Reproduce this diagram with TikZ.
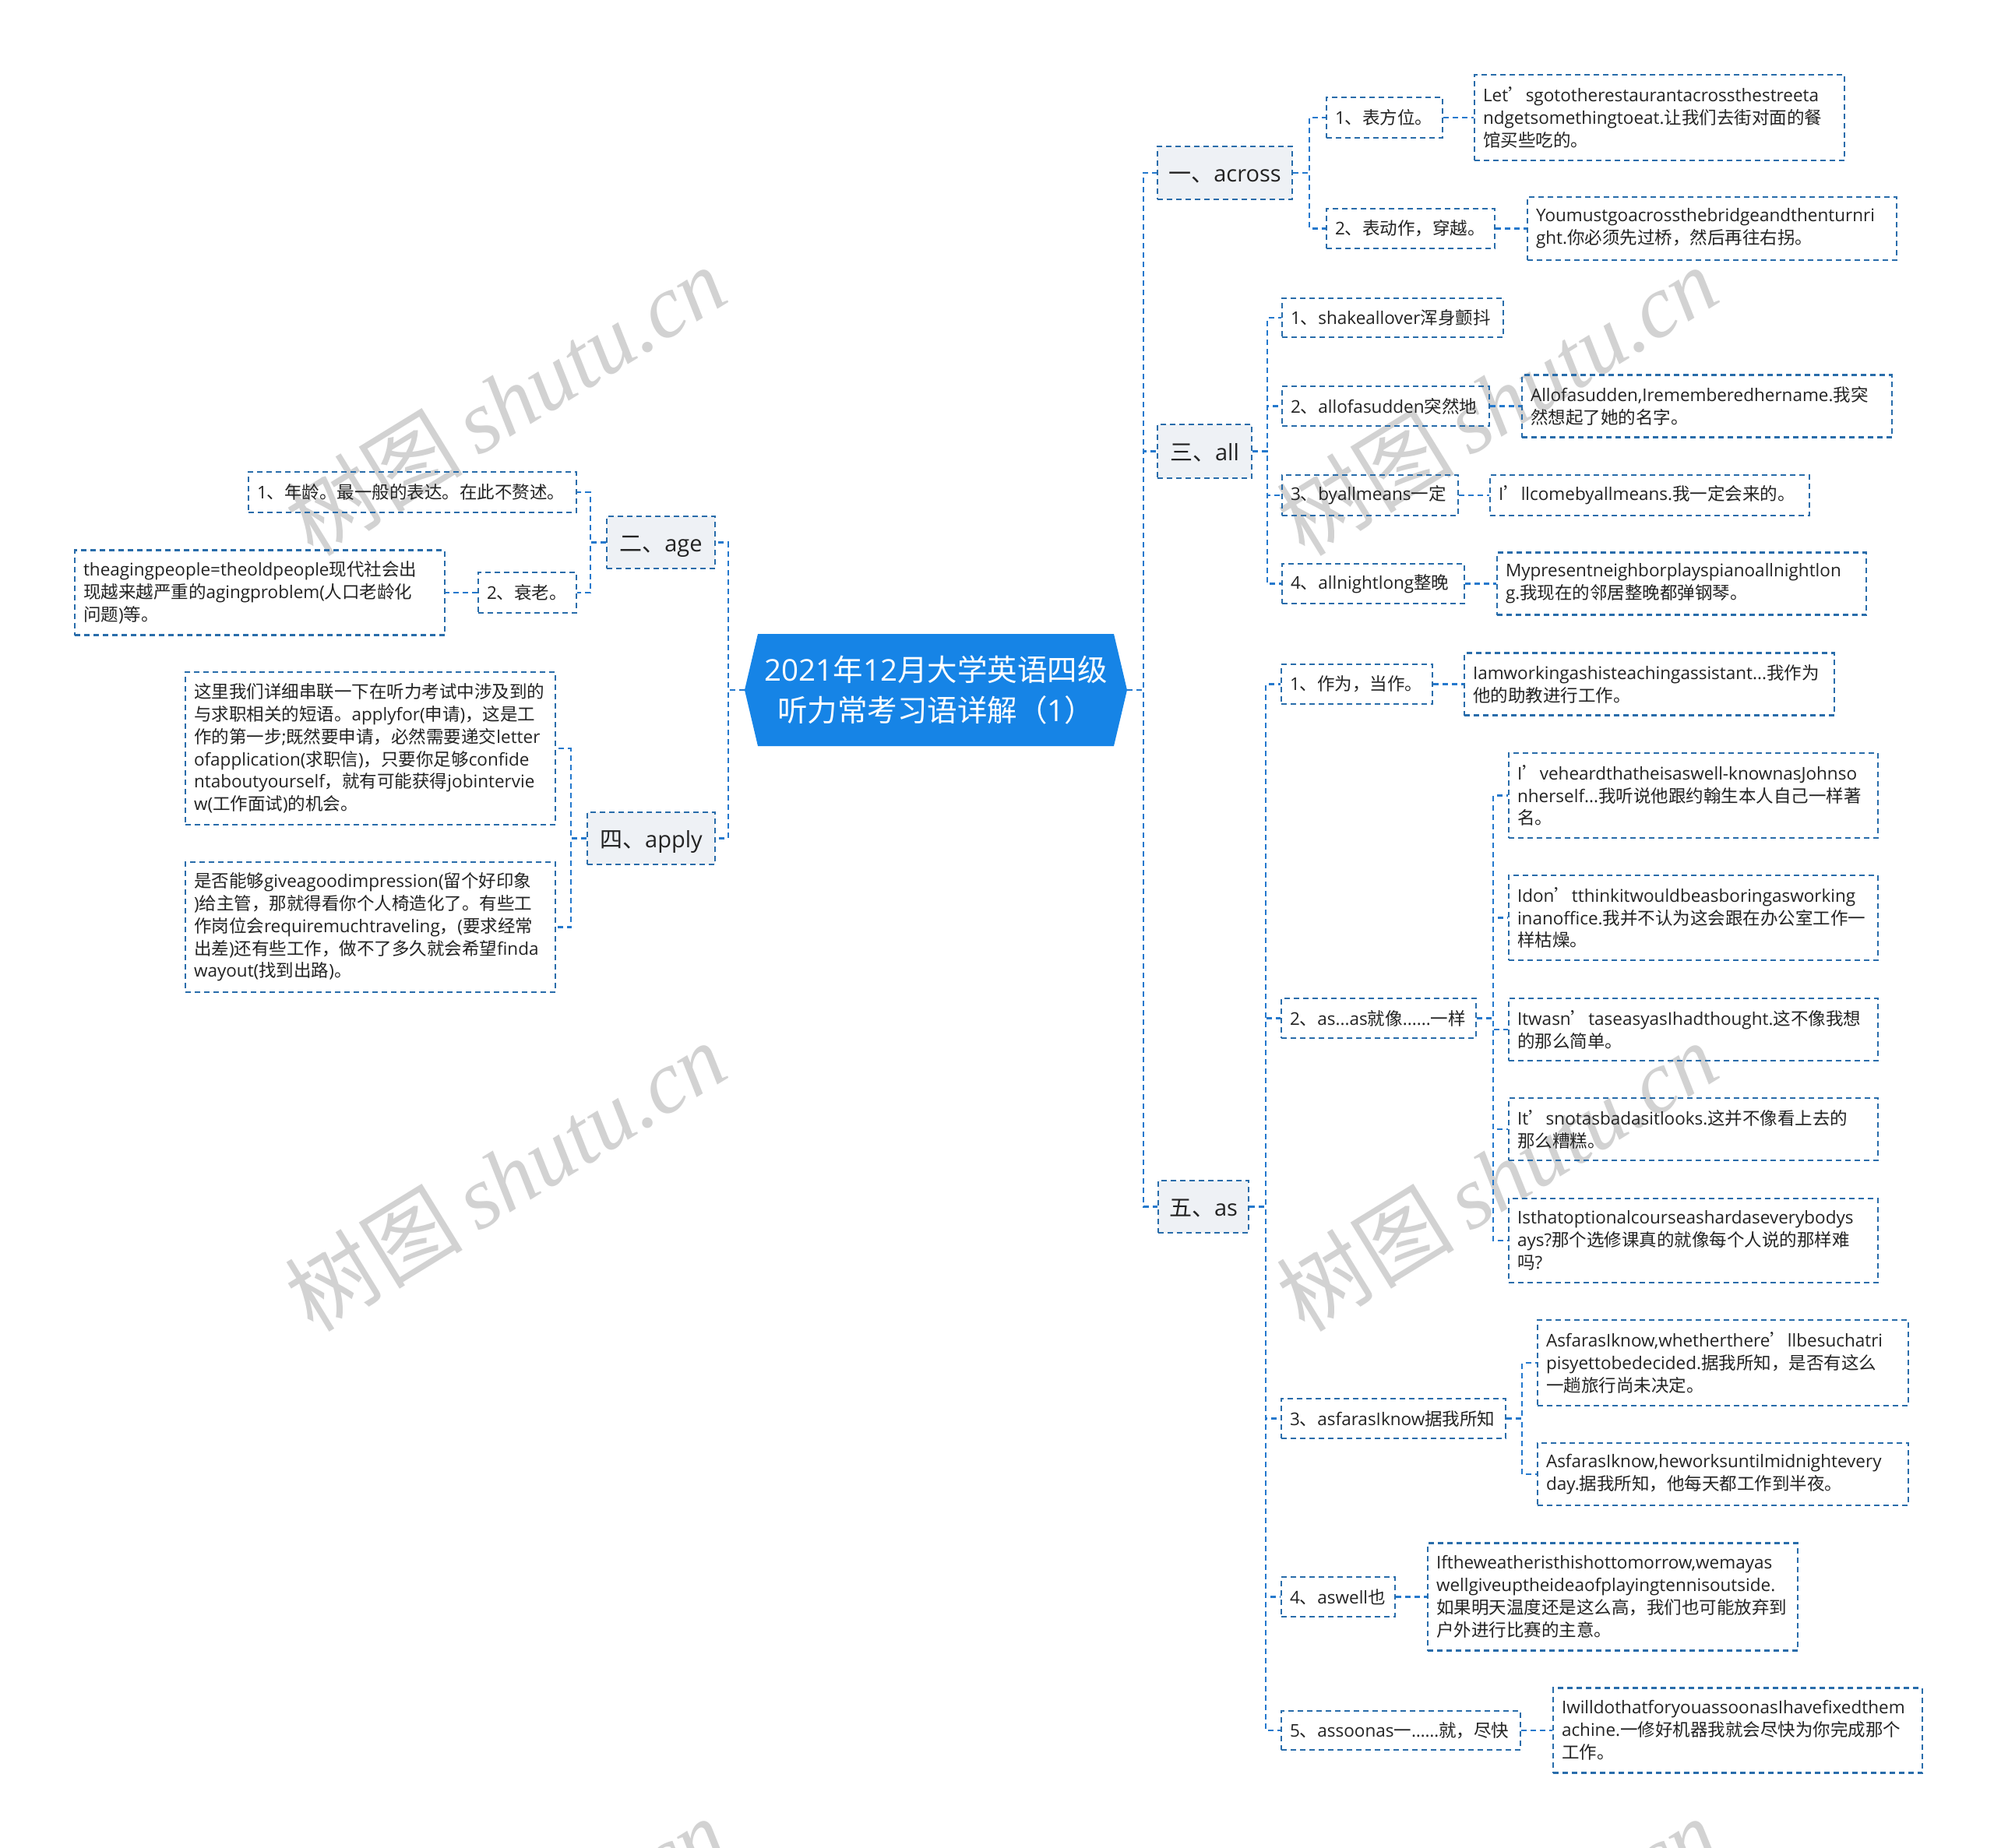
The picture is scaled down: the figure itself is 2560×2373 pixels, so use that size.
\documentclass[tikz,border=0pt]{standalone}
\usepackage{fontspec}
\setmainfont{Open Sans}
\newfontfamily\latinf{Open Sans}
\newfontfamily\cjkf{Noto Sans CJK SC}
\newfontfamily\wmserif{Liberation Serif}
\newXeTeXintercharclass\cjkclass
\makeatletter
\count@="21
\loop\XeTeXcharclass\count@=0 \advance\count@\@ne\ifnum\count@<"2E80\repeat
\count@="2E80
\loop\XeTeXcharclass\count@=\cjkclass\advance\count@\@ne\ifnum\count@<"A000\repeat
\count@="FF00
\loop\XeTeXcharclass\count@=\cjkclass\advance\count@\@ne\ifnum\count@<"FFF0\repeat
\makeatother
\XeTeXcharclass"2018=\cjkclass
\XeTeXcharclass"2019=\cjkclass
\XeTeXcharclass"201C=\cjkclass
\XeTeXcharclass"201D=\cjkclass
\XeTeXinterchartoks 0 \cjkclass = {\cjkf}
\XeTeXinterchartoks 4095 \cjkclass = {\cjkf}
\XeTeXinterchartoks \cjkclass 0 = {\latinf}
\XeTeXinterchartoks \cjkclass 4095 = {\latinf}
\XeTeXinterchartokenstate=1
\newcommand\nohyph{\hyphenpenalty=10000\relax\exhyphenpenalty=10000\relax}
\definecolor{bord}{RGB}{40,108,170}
\definecolor{connc}{RGB}{35,120,205}
\definecolor{lonefill}{RGB}{238,241,245}
\definecolor{titlec}{RGB}{22,132,230}
\definecolor{wmc}{RGB}{210,210,210}
\definecolor{txt}{RGB}{35,35,35}
\begin{document}
\begin{tikzpicture}[x=1pt,y=-1pt,
  box/.style={draw=bord, dash pattern=on 7pt off 5pt, line width=2.2pt, inner ysep=0pt, text=txt},
  lone/.style={box, fill=lonefill, inner xsep=0pt, align=center, text height=26pt, text depth=2pt,
    font=\fontsize{29}{36}\selectfont},
  leaf/.style={box, inner xsep=11pt, align=left,
    font=\fontsize{22.5}{28.8}\selectfont\nohyph},
  conn/.style={draw=connc, dash pattern=on 7pt off 5pt, line width=2.2pt},
  wmark/.style={rotate=31.6, text=wmc, inner sep=0pt, font=\fontsize{114}{114}\selectfont}
]
\useasboundingbox (0,0) rectangle (2560,2373);
\fill[white] (0,0) rectangle (2560,2373);

% watermarks
\begin{scope}
\clip (0,0) rectangle (2560,2373);
\foreach \wx/\wy [count=\i] in {649/514,1922/514,649/1510,1922/1510,649/2506,1922/2506}
  \node[wmark] (wm\i) at (\wx,\wy) {\XeTeXinterchartokenstate=0\relax{\cjkf 树图}\hspace{20pt}{\wmserif\itshape shutu.cn}};
\end{scope}

% title
\fill[titlec] (956,886) -- (973,814) -- (1430,814) -- (1447,886) -- (1430,958) -- (973,958) -- cycle;
\node[text=white, align=center, inner sep=0pt, minimum width=491pt, minimum height=144pt,
  font=\fontsize{38.5}{52}\selectfont] (title) at (1201.5,886) {2021年12月大学英语四级\\听力常考习语详解（1）};

% level 1
\node[lone, minimum width=173pt, minimum height=68pt] (across) at (1572.5,222) {一、across};
\node[lone, minimum width=121pt, minimum height=69pt] (all) at (1546.5,579.5) {三、all};
\node[lone, minimum width=116pt, minimum height=67pt] (as) at (1545,1549.5) {五、as};
\node[lone, minimum width=139pt, minimum height=67pt] (age) at (848.5,696.5) {二、age};
\node[lone, minimum width=164pt, minimum height=67pt] (apply) at (836,1076.5) {四、apply};

% across
\node[leaf, text width=127pt, minimum height=52pt] (a1) at (1777.5,151) {1、表方位。};
\node[leaf, text width=194pt, minimum height=51pt] (a2) at (1811,293.5) {2、表动作，穿越。};
\node[leaf, text width=453pt, minimum height=110pt] (a1l) at (2130.5,151) {Let’sgototherestaurantacrossthestreeta\\ndgetsomethingtoeat.让我们去街对面的餐\\馆买些吃的。};
\node[leaf, text width=452pt, minimum height=81pt] (a2l) at (2198,293.5) {Youmustgoacrossthebridgeandthenturnri\\ght.你必须先过桥，然后再往右拐。};

% all
\node[leaf, text width=262pt, minimum height=50pt] (b1) at (1788,408) {1、shakeallover浑身颤抖};
\node[leaf, text width=244pt, minimum height=51pt] (b2) at (1779,521.5) {2、allofasudden突然地};
\node[leaf, text width=453pt, minimum height=80pt] (b2l) at (2191.5,521.5) {Allofasudden,Irememberedhername.我突\\然想起了她的名字。};
\node[leaf, text width=204pt, minimum height=52pt] (b3) at (1759,636) {3、byallmeans一定};
\node[leaf, text width=388pt, minimum height=52pt] (b3l) at (2118,636) {I’llcomebyallmeans.我一定会来的。};
\node[leaf, text width=212pt, minimum height=51pt] (b4) at (1763,749.5) {4、allnightlong整晚};
\node[leaf, text width=452pt, minimum height=80pt] (b4l) at (2159,749.5) {Mypresentneighborplayspianoallnightlon\\g.我现在的邻居整晚都弹钢琴。};

% as
\node[leaf, text width=172pt, minimum height=51pt] (c1) at (1742,878.5) {1、作为，当作。};
\node[leaf, text width=453pt, minimum height=80pt] (c1l) at (2117.5,878.5) {Iamworkingashisteachingassistant...我作为\\他的助教进行工作。};
\node[leaf, text width=228pt, minimum height=51pt] (c2) at (1770,1307.5) {2、as...as就像......一样};
\node[leaf, text width=452pt, minimum height=109pt] (c2a) at (2174,1021.5) {I’veheardthatheisaswell-knownasJohnso\\nherself...我听说他跟约翰生本人自己一样著\\名。};
\node[leaf, text width=452pt, minimum height=109pt] (c2b) at (2174,1178.5) {Idon’tthinkitwouldbeasboringasworking\\inanoffice.我并不认为这会跟在办公室工作一\\样枯燥。};
\node[leaf, text width=452pt, minimum height=80pt] (c2c) at (2174,1322) {Itwasn’taseasyasIhadthought.这不像我想\\的那么简单。};
\node[leaf, text width=452pt, minimum height=80pt] (c2d) at (2174,1450) {It’snotasbadasitlooks.这并不像看上去的\\那么糟糕。};
\node[leaf, text width=452pt, minimum height=108pt] (c2e) at (2174,1593) {Isthatoptionalcourseashardaseverybodys\\ays?那个选修课真的就像每个人说的那样难\\吗?};
\node[leaf, text width=266pt, minimum height=51pt] (c3) at (1789,1821.5) {3、asfarasIknow据我所知};
\node[leaf, text width=454pt, minimum height=110pt] (c3a) at (2212,1750) {AsfarasIknow,whetherthere’llbesuchatri\\pisyettobedecided.据我所知，是否有这么\\一趟旅行尚未决定。};
\node[leaf, text width=454pt, minimum height=80pt] (c3b) at (2212,1893) {AsfarasIknow,heworksuntilmidnightevery\\day.据我所知，他每天都工作到半夜。};
\node[leaf, text width=124pt, minimum height=51pt] (c4) at (1718,2050.5) {4、aswell也};
\node[leaf, text width=453pt, minimum height=138pt] (c4l) at (2070.5,2050.5) {Iftheweatheristhishottomorrow,wemayas\\wellgiveuptheideaofplayingtennisoutside.\\如果明天温度还是这么高，我们也可能放弃到\\户外进行比赛的主意。};
\node[leaf, text width=285pt, minimum height=50pt] (c5) at (1798.5,2222) {5、assoonas一……就，尽快};
\node[leaf, text width=452pt, minimum height=109pt] (c5l) at (2231,2222) {IwilldothatforyouassoonasIhavefixedthem\\achine.一修好机器我就会尽快为你完成那个\\工作。};

% age
\node[leaf, text width=399pt, minimum height=52pt] (d1) at (529.5,632) {1、年龄。最一般的表达。在此不赘述。};
\node[leaf, text width=104pt, minimum height=52pt] (d2) at (677,761) {2、衰老。};
\node[leaf, text width=453pt, minimum height=109pt] (d2l) at (333.5,761) {theagingpeople=theoldpeople现代社会出\\现越来越严重的agingproblem(人口老龄化\\问题)等。};

% apply
\node[leaf, text width=453pt, minimum height=196pt] (e1) at (475.5,961) {这里我们详细串联一下在听力考试中涉及到的\\与求职相关的短语。applyfor(申请)，这是工\\作的第一步;既然要申请，必然需要递交letter\\ofapplication(求职信)，只要你足够confide\\ntaboutyourself，就有可能获得jobintervie\\w(工作面试)的机会。};
\node[leaf, text width=453pt, minimum height=167pt] (e2) at (475.5,1190.5) {是否能够giveagoodimpression(留个好印象\\)给主管，那就得看你个人椅造化了。有些工\\作岗位会requiremuchtraveling，(要求经常\\出差)还有些工作，做不了多久就会希望finda\\wayout(找到出路)。};

% connectors right
\foreach \t in {across,all,as}
  \draw[conn] (title.east) -- ++(21,0) |- (\t.west);
\foreach \t in {a1,a2}
  \draw[conn] (across.east) -- ++(21,0) |- (\t.west);
\draw[conn] (a1.east) -- (a1l.west);
\draw[conn] (a2.east) -- (a2l.west);
\foreach \t in {b1,b2,b3,b4}
  \draw[conn] (all.east) -- ++(19,0) |- (\t.west);
\draw[conn] (b2.east) -- (b2l.west);
\draw[conn] (b3.east) -- (b3l.west);
\draw[conn] (b4.east) -- (b4l.west);
\foreach \t in {c1,c2,c3,c4,c5}
  \draw[conn] (as.east) -- ++(21,0) |- (\t.west);
\draw[conn] (c1.east) -- (c1l.west);
\foreach \t in {c2a,c2b,c2c,c2d,c2e}
  \draw[conn] (c2.east) -- ++(21,0) |- (\t.west);
\foreach \t in {c3a,c3b}
  \draw[conn] (c3.east) -- ++(20,0) |- (\t.west);
\draw[conn] (c4.east) -- (c4l.west);
\draw[conn] (c5.east) -- (c5l.west);

% connectors left
\foreach \t in {age,apply}
  \draw[conn] (title.west) -- ++(-21,0) |- (\t.east);
\foreach \t in {d1,d2}
  \draw[conn] (age.west) -- ++(-20,0) |- (\t.east);
\draw[conn] (d2.west) -- (d2l.east);
\foreach \t in {e1,e2}
  \draw[conn] (apply.west) -- ++(-20,0) |- (\t.east);
\end{tikzpicture}
\end{document}
